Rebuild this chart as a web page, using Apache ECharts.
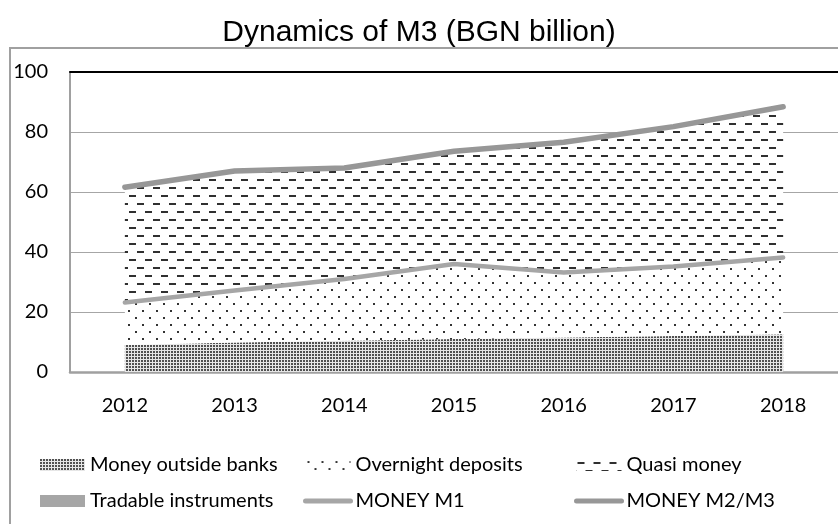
<!DOCTYPE html>
<html>
<head>
<meta charset="utf-8">
<script src="https://cdn.jsdelivr.net/npm/echarts@6/dist/echarts.min.js"></script>
<style>html,body{margin:0;padding:0;background:#fff;}#c{width:838px;height:524px;}</style>
</head>
<body>
<div id="c"></div>
<script>
var years = ['2012', '2013', '2014', '2015', '2016', '2017', '2018'];
var moneyOutsideBanks = [9.0, 9.8, 10.4, 11.0, 11.5, 12.0, 12.6];
var overnightDeposits = [14.2, 17.4, 20.6, 25.0, 21.7, 23.2, 25.6];
var quasiMoney = [38.2, 39.5, 36.8, 37.4, 43.3, 46.5, 50.1];
var tradableInstruments = [0.2, 0.3, 0.2, 0.2, 0.1, 0.1, 0.1];
var moneyM1 = [23.2, 27.2, 31.0, 36.0, 33.2, 35.2, 38.2];
var moneyM2M3 = [61.6, 67.0, 68.0, 73.6, 76.6, 81.8, 88.4];
var yTicks = [0, 20, 40, 60, 80, 100];

function makePattern(w, h, bg, fg, rects) {
  var cv = document.createElement('canvas');
  cv.width = w; cv.height = h;
  var ctx = cv.getContext('2d');
  ctx.fillStyle = bg; ctx.fillRect(0, 0, w, h);
  ctx.fillStyle = fg;
  rects.forEach(function (r) { ctx.fillRect(r[0], r[1], r[2], r[3]); });
  return { image: cv, repeat: 'repeat' };
}
var patMOB = makePattern(3, 3, '#e6e6e6', '#505050', [[0, 0, 2, 2]]);
var patOver = makePattern(14, 14, '#ffffff', '#333333', [[2, 2, 2, 2], [9, 9, 2, 2]]);
var patQuasi = makePattern(16, 16, '#ffffff', '#303030', [[1, 3, 7, 2], [9, 11, 7, 2]]);

var font = 'Lato, "Open Sans", sans-serif';
var chart = echarts.init(document.getElementById('c'), null, { renderer: 'canvas' });

function areaSeries(name, data, fill) {
  return {
    name: name, type: 'line', stack: 'm', data: data, symbol: 'none',
    lineStyle: { width: 0, opacity: 0 }, itemStyle: { color: fill },
    areaStyle: { color: fill, opacity: 1 }, emphasis: { disabled: true }, z: 2
  };
}
function lineSeries(name, data, color, width) {
  return {
    name: name, type: 'line', data: data, symbol: 'none',
    lineStyle: { color: color, width: width, cap: 'round', join: 'round' },
    itemStyle: { color: color }, emphasis: { disabled: true }, z: 5
  };
}
var legendText = { fontFamily: font, fontSize: 20, color: '#000', lineHeight: 20 };
function legendCol(left, items) {
  return {
    orient: 'vertical', left: left, top: 450, itemWidth: 45, itemHeight: 12,
    itemGap: 16, textStyle: legendText, selectedMode: false, data: items
  };
}

chart.setOption({
  animation: false,
  title: {
    text: 'Dynamics of M3 (BGN billion)', left: 'center', top: 13,
    textStyle: { fontFamily: '"Liberation Sans", Arial, sans-serif', fontWeight: 'normal', fontSize: 30, color: '#000' }
  },
  graphic: [{
    type: 'rect', shape: { x: 10, y: 48, width: 840, height: 490 },
    style: { fill: 'none', stroke: '#a0a0a0', lineWidth: 2 }, silent: true
  }],
  grid: { left: 70, top: 72, width: 770, height: 300 },
  legend: [
    legendCol(35, [
      { name: 'Money outside banks', icon: 'rect', itemStyle: { color: patMOB } },
      { name: 'Tradable instruments', icon: 'rect', itemStyle: { color: '#a6a6a6' } }
    ]),
    legendCol(298, [
      { name: 'Overnight deposits', icon: 'rect', itemStyle: { color: patOver } },
      { name: 'MONEY M1', itemStyle: { opacity: 0 }, lineStyle: { width: 5, color: '#a6a6a6', cap: 'round' } }
    ]),
    legendCol(569, [
      { name: 'Quasi money', icon: 'rect', itemStyle: { color: patQuasi } },
      { name: 'MONEY M2/M3', itemStyle: { opacity: 0 }, lineStyle: { width: 5, color: '#979797', cap: 'round' } }
    ])
  ],
  xAxis: [{
    type: 'category', data: years, boundaryGap: true,
    axisLine: { lineStyle: { color: '#a0a0a0', width: 2.5 } },
    axisTick: { show: false },
    axisLabel: { fontFamily: font, fontSize: 20, color: '#000', margin: 24 }
  }, {
    type: 'category', data: years, position: 'top', boundaryGap: true,
    axisLine: { lineStyle: { color: '#000', width: 2 } },
    axisTick: { show: false }, axisLabel: { show: false }
  }],
  yAxis: {
    type: 'value', min: yTicks[0], max: yTicks[yTicks.length - 1], interval: 20,
    axisLine: { show: true, lineStyle: { color: '#a0a0a0', width: 2 } },
    axisTick: { show: false },
    splitLine: { lineStyle: { color: '#a6a6a6', width: 1 } },
    axisLabel: { fontFamily: font, fontSize: 20, color: '#000', margin: 22 }
  },
  series: [
    areaSeries('Money outside banks', moneyOutsideBanks, patMOB),
    areaSeries('Overnight deposits', overnightDeposits, patOver),
    areaSeries('Quasi money', quasiMoney, patQuasi),
    areaSeries('Tradable instruments', tradableInstruments, '#a6a6a6'),
    lineSeries('MONEY M1', moneyM1, '#a6a6a6', 4.5),
    lineSeries('MONEY M2/M3', moneyM2M3, '#979797', 5.5)
  ]
});
</script>
</body>
</html>
